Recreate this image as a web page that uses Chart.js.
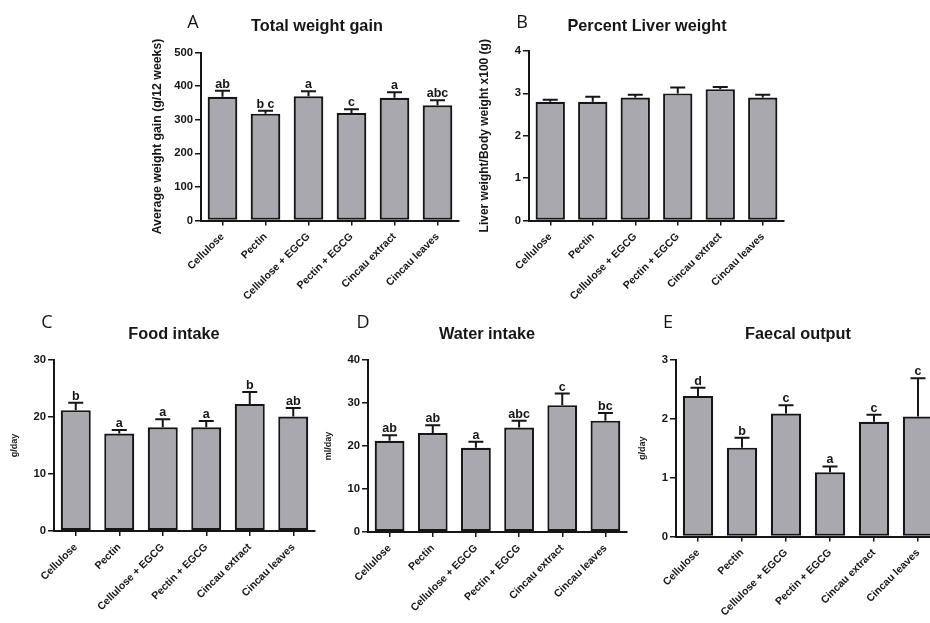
<!DOCTYPE html>
<html><head><meta charset="utf-8">
<script src="https://cdn.jsdelivr.net/npm/chart.js@4.4.1/dist/chart.umd.min.js"></script>
<style>
html,body{margin:0;padding:0;background:#fff;overflow:hidden;width:930px;height:623px;}
#wrap{position:relative;width:930px;height:623px;overflow:hidden;background:#fff;}
canvas{position:absolute;left:0;top:0;}
</style></head><body>
<div id="wrap">
<canvas id="cA" width="960" height="623"></canvas>
<canvas id="cB" width="960" height="623"></canvas>
<canvas id="cC" width="960" height="623"></canvas>
<canvas id="cD" width="960" height="623"></canvas>
<canvas id="cE" width="960" height="623"></canvas>
</div>
<script>
// ---------- DATA ----------
const categories = ['Cellulose', 'Pectin', 'Cellulose + EGCG', 'Pectin + EGCG', 'Cincau extract', 'Cincau leaves'];

const weightGain        = [368, 318, 370, 320, 365, 343];
const weightGainSEM     = [18, 9, 15, 11, 17, 15];
const weightGainLetters = ['ab', 'b c', 'a', 'c', 'a', 'abc'];
const weightGainTicks   = [0, 100, 200, 300, 400, 500];

const liverPct        = [2.8, 2.8, 2.9, 3.0, 3.1, 2.9];
const liverPctSEM     = [0.05, 0.12, 0.07, 0.14, 0.05, 0.07];
const liverPctLetters = ['', '', '', '', '', ''];
const liverPctTicks   = [0, 1, 2, 3, 4];

const foodIntake        = [21.2, 17.1, 18.2, 18.2, 22.3, 20.1];
const foodIntakeSEM     = [1.3, 0.6, 1.4, 1.1, 2.1, 1.5];
const foodIntakeLetters = ['b', 'a', 'a', 'a', 'b', 'ab'];
const foodIntakeTicks   = [0, 10, 20, 30];

const waterIntake        = [21.2, 23.0, 19.6, 24.3, 29.5, 25.9];
const waterIntakeSEM     = [1.3, 1.8, 1.4, 1.6, 2.7, 1.8];
const waterIntakeLetters = ['ab', 'ab', 'a', 'abc', 'c', 'bc'];
const waterIntakeTicks   = [0, 10, 20, 30, 40];

const faecalOutput        = [2.39, 1.51, 2.09, 1.09, 1.95, 2.04];
const faecalOutputSEM     = [0.14, 0.17, 0.14, 0.10, 0.12, 0.65];
const faecalOutputLetters = ['d', 'b', 'c', 'a', 'c', 'c'];
const faecalOutputTicks   = [0, 1, 2, 3];

// ---------- LAYOUT (page pixels) ----------
const FONT = '"Liberation Sans", Arial, sans-serif';
const INK = '#161616';
const panels = [
  { id:'cA', letter:'A', title:'Total weight gain', yTitle:'Average weight gain (g/12 weeks)',
    data:weightGain, sem:weightGainSEM, letters:weightGainLetters, ticks:weightGainTicks,
    L:201, R:459, T:52.5, B:220.5, letterPos:[193,23], titlePos:[317,27], yTitleX:158, yTitleSize:12.3 },
  { id:'cB', letter:'B', title:'Percent Liver weight', yTitle:'Liver weight/Body weight x100 (g)',
    data:liverPct, sem:liverPctSEM, letters:liverPctLetters, ticks:liverPctTicks,
    L:529, R:784, T:51, B:220.5, letterPos:[522,23], titlePos:[647,27], yTitleX:485, yTitleSize:12 },
  { id:'cC', letter:'C', title:'Food intake', yTitle:'g/day',
    data:foodIntake, sem:foodIntakeSEM, letters:foodIntakeLetters, ticks:foodIntakeTicks,
    L:54, R:315, T:360, B:531, letterPos:[47,323], titlePos:[174,335], yTitleX:14.5, yTitleSize:9 },
  { id:'cD', letter:'D', title:'Water intake', yTitle:'ml/day',
    data:waterIntake, sem:waterIntakeSEM, letters:waterIntakeLetters, ticks:waterIntakeTicks,
    L:368, R:627, T:360, B:532, letterPos:[363,323], titlePos:[487,335], yTitleX:329, yTitleSize:9 },
  { id:'cE', letter:'E', title:'Faecal output', yTitle:'g/day',
    data:faecalOutput, sem:faecalOutputSEM, letters:faecalOutputLetters, ticks:faecalOutputTicks,
    L:676, R:940, T:360, B:536.5, letterPos:[668,323], titlePos:[798,335], yTitleX:643, yTitleSize:9 }
];

const Y_W = 40, X_H = 80, CW = 960, CH = 623;

const annotPlugin = {
  id: 'annot',
  afterDatasetsDraw(chart, args, opts) {
    const { ctx } = chart;
    const x = chart.scales.x, y = chart.scales.y;
    const vals = chart.data.datasets[0].data;
    ctx.save();
    ctx.strokeStyle = INK;
    ctx.lineWidth = 2;
    ctx.fillStyle = INK;
    ctx.font = 'bold 12.5px ' + FONT;
    ctx.textAlign = 'center';
    ctx.textBaseline = 'alphabetic';
    vals.forEach((v, i) => {
      const px = x.getPixelForValue(i);
      const y0 = y.getPixelForValue(v);
      const y1 = y.getPixelForValue(v + opts.sem[i]);
      ctx.beginPath();
      ctx.moveTo(px, y0); ctx.lineTo(px, y1);
      ctx.moveTo(px - 7.5, y1); ctx.lineTo(px + 7.5, y1);
      ctx.stroke();
      const lt = opts.letters[i];
      if (lt) ctx.fillText(lt, px, y1 - 3);
    });
    ctx.restore();
  },
  afterDraw(chart, args, opts) {
    const { ctx, chartArea } = chart;
    const p = opts.panel;
    ctx.save();
    ctx.fillStyle = INK;
    ctx.textAlign = 'center';
    ctx.textBaseline = 'middle';
    ctx.font = '18px "Open Sans", "Liberation Sans", sans-serif';
    ctx.fillText(p.letter, p.letterPos[0], p.letterPos[1]);
    ctx.font = 'bold 16.3px ' + FONT;
    ctx.fillText(p.title, p.titlePos[0], p.titlePos[1]);
    ctx.translate(p.yTitleX, (chartArea.top + chartArea.bottom) / 2);
    ctx.rotate(-Math.PI / 2);
    ctx.font = 'bold ' + p.yTitleSize + 'px ' + FONT;
    ctx.fillText(p.yTitle, 0, 0);
    ctx.restore();
  }
};

panels.forEach(p => {
  const ticks = p.ticks;
  new Chart(document.getElementById(p.id), {
    type: 'bar',
    data: {
      labels: categories,
      datasets: [{
        data: p.data,
        backgroundColor: '#a8a8ae',
        borderColor: INK,
        borderWidth: 2.2,
        borderSkipped: false,
        barPercentage: 0.69,
        categoryPercentage: 1.0
      }]
    },
    options: {
      responsive: false,
      animation: false,
      devicePixelRatio: 1,
      layout: { padding: { left: p.L - Y_W, top: p.T, right: CW - p.R, bottom: CH - p.B - X_H } },
      plugins: {
        legend: { display: false },
        tooltip: { enabled: false },
        title: { display: false },
        annot: { sem: p.sem, letters: p.letters, panel: p }
      },
      scales: {
        x: {
          ticks: { autoSkip: false, minRotation: 45, maxRotation: 45, padding: 5,
                   color: INK, font: { family: FONT, size: 10.5, weight: 'bold' } },
          grid: { display: true, drawOnChartArea: false, offset: false, drawTicks: true,
                  tickLength: 5, color: INK, lineWidth: 1.5 },
          border: { display: true, color: INK, width: 2 },
          afterFit(s) { s.height = X_H; }
        },
        y: {
          min: ticks[0], max: ticks[ticks.length - 1],
          ticks: { stepSize: ticks[1] - ticks[0], padding: 2, color: INK,
                   font: { family: FONT, size: 11.3, weight: 'bold' } },
          grid: { display: true, drawOnChartArea: false, drawTicks: true,
                  tickLength: 6, color: INK, lineWidth: 1.5 },
          border: { display: true, color: INK, width: 2 },
          afterFit(s) { s.width = Y_W; }
        }
      }
    },
    plugins: [annotPlugin]
  });
});
</script>
</body></html>
